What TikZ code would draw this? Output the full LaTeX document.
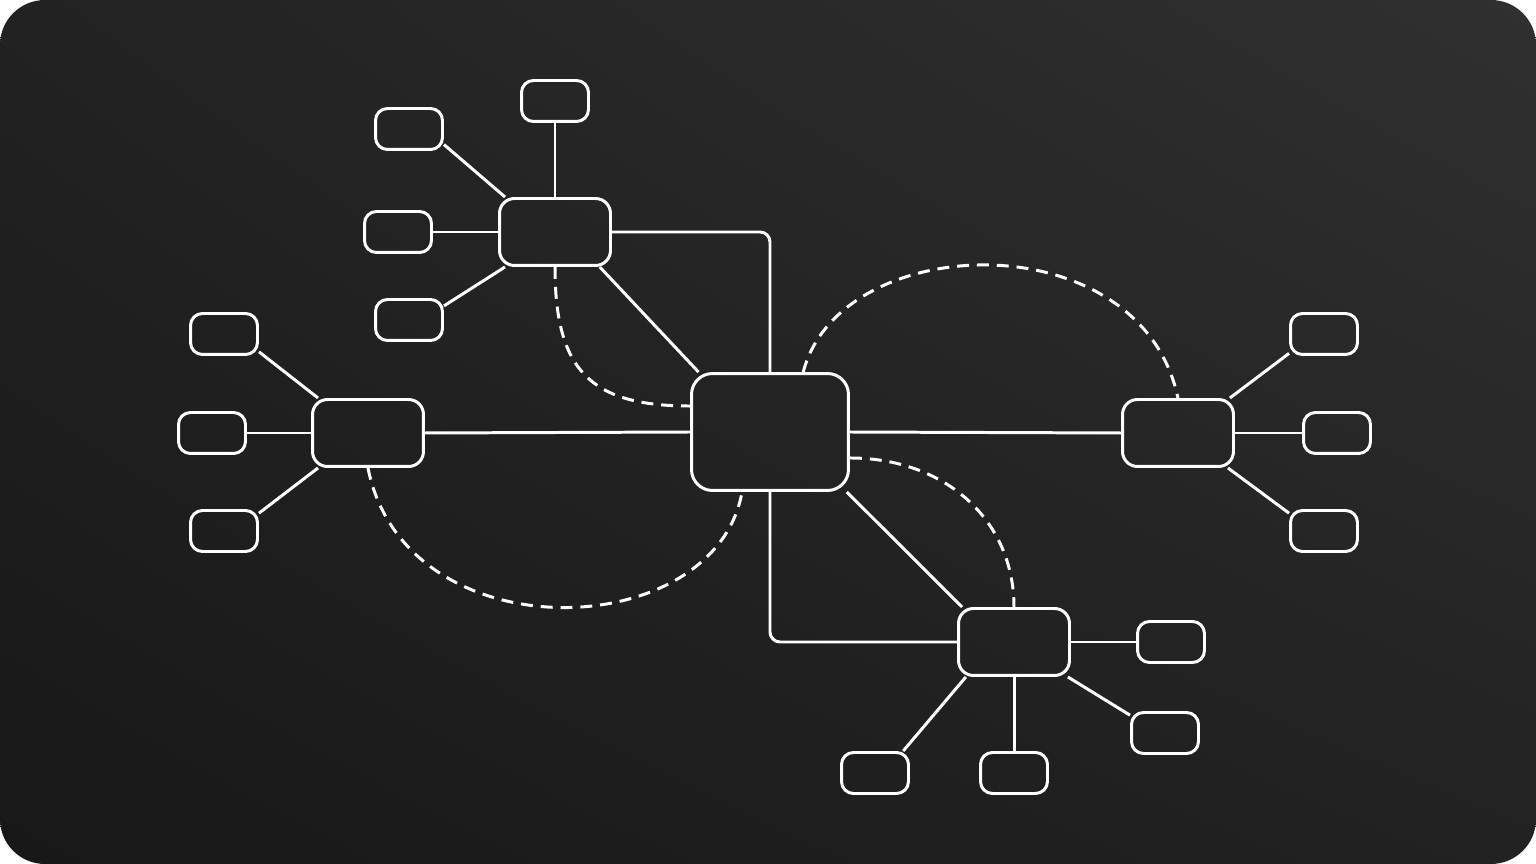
\documentclass[tikz,border=0pt]{standalone}
\usepackage{tikz}
\usetikzlibrary{shadings}
\definecolor{bgdark}{HTML}{181818}
\definecolor{bgmid}{HTML}{222222}
\definecolor{bglight}{HTML}{303030}

\begin{document}
\begin{tikzpicture}[x=0.02cm, y=-0.02cm,
        box/.style = {draw=white, line width=1.7pt, inner sep=0pt, rounded corners=0.24cm},
        leaf/.style = {box, minimum width=1.34cm, minimum height=0.82cm},
        hub/.style = {box, minimum width=2.22cm, minimum height=1.34cm, rounded corners=0.3cm},
        core/.style = {box, minimum width=3.14cm, minimum height=2.34cm, rounded corners=0.42cm},
        link/.style = {draw=white, line width=1.7pt},
        dashlink/.style = {link, dash pattern=on 6.8pt off 4.5pt}]

        \useasboundingbox (0,0) rectangle (1536,864);
        \fill[white] (0,0) rectangle (1536,864);
        \shade[rounded corners=0.9cm, lower left=bgdark, lower right=bgmid,
               upper left=bgmid, upper right=bglight] (0,0) rectangle (1536,864);

        % hubs
        \node[core] (C) at (770,432) {};
        \node[hub] (T) at (555,232) {};
        \node[hub] (L) at (368,433) {};
        \node[hub] (R) at (1178,433) {};
        \node[hub] (B) at (1014,642) {};

        % leaves
        \node[leaf] (t1) at (555,101) {};
        \node[leaf] (t2) at (409,129) {};
        \node[leaf] (t3) at (398,232) {};
        \node[leaf] (t4) at (409,320) {};

        \node[leaf] (l1) at (224,334) {};
        \node[leaf] (l2) at (212,433) {};
        \node[leaf] (l3) at (224,531) {};

        \node[leaf] (r1) at (1324,334) {};
        \node[leaf] (r2) at (1337,433) {};
        \node[leaf] (r3) at (1324,531) {};

        \node[leaf] (b1) at (1171,642) {};
        \node[leaf] (b2) at (1165,733) {};
        \node[leaf] (b3) at (1014,773) {};
        \node[leaf] (b4) at (875,773) {};

        % straight spokes
        \foreach \h/\l in {T/t1, T/t3, L/l2, R/r2, B/b1, B/b3}
            \draw[link] (\h) -- (\l);
        % slanted spokes, corner to corner
        \foreach \h/\a/\l/\b in {T/145/t2/-24, T/215/t4/22, L/145/l1/-27, L/215/l3/27,
                                 R/34/r1/-151, R/-35/r3/153, B/-33/b2/153, B/216/b4/38}
            \draw[link] (\h.\a) -- (\l.\b);

        % links to the core
        \draw[link] (L.east) -- (C.west);
        \draw[link] (C.east) -- (R.west);
        \draw[link] (T.-38) -- (C.140);
        \draw[link] (C.-38) -- (B.146);
        \draw[link, rounded corners=0.2cm] (T.east) -| (C.north);
        \draw[link, rounded corners=0.2cm] (C.south) |- (B.west);

        % dashed arcs
        \draw[dashlink] (T.south) .. controls (555,370) and (590,406) .. (C.162);
        \draw[dashlink] (L.south) .. controls (405,655) and (715,645) .. (C.-115);
        \draw[dashlink] (C.61) .. controls (840,230) and (1140,220) .. (R.north);
        \draw[dashlink] (C.-18) .. controls (945,458) and (1014,520) .. (B.north);

    \end{tikzpicture}
\end{document}
